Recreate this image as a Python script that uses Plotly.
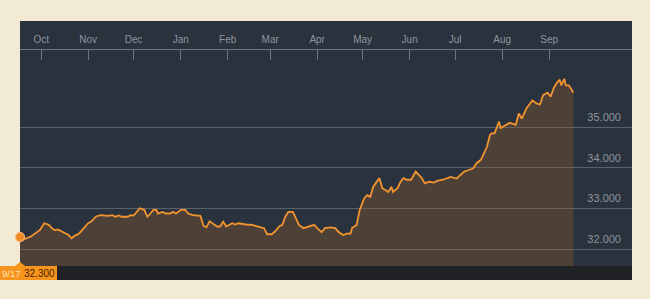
import plotly.graph_objects as go

dates = [
    "2013-09-17", "2013-09-20", "2013-09-24", "2013-09-27", "2013-09-30",
    "2013-10-03", "2013-10-06", "2013-10-08", "2013-10-10", "2013-10-12",
    "2013-10-15", "2013-10-17", "2013-10-19", "2013-10-21", "2013-10-23",
    "2013-10-26", "2013-10-28", "2013-10-30", "2013-11-01", "2013-11-03",
    "2013-11-06", "2013-11-08", "2013-11-10", "2013-11-12", "2013-11-14",
    "2013-11-17", "2013-11-19", "2013-11-21", "2013-11-23", "2013-11-27",
    "2013-11-29", "2013-12-01", "2013-12-03", "2013-12-05", "2013-12-08",
    "2013-12-10", "2013-12-12", "2013-12-14", "2013-12-16", "2013-12-17",
    "2013-12-20", "2013-12-22", "2013-12-25", "2013-12-27", "2013-12-29",
    "2014-01-01", "2014-01-04", "2014-01-06", "2014-01-09", "2014-01-14",
    "2014-01-16", "2014-01-18", "2014-01-20", "2014-01-23", "2014-01-25",
    "2014-01-27", "2014-01-29", "2014-01-31", "2014-02-02", "2014-02-04",
    "2014-02-06", "2014-02-08", "2014-02-13", "2014-02-17", "2014-02-21",
    "2014-02-25", "2014-02-27", "2014-03-02", "2014-03-04", "2014-03-07",
    "2014-03-09", "2014-03-11", "2014-03-13", "2014-03-16", "2014-03-18",
    "2014-03-20", "2014-03-23", "2014-03-26", "2014-03-30", "2014-04-01",
    "2014-04-04", "2014-04-06", "2014-04-10", "2014-04-13", "2014-04-15",
    "2014-04-18", "2014-04-21", "2014-04-23", "2014-04-24", "2014-04-27",
    "2014-04-29", "2014-05-02", "2014-05-04", "2014-05-06", "2014-05-08",
    "2014-05-12", "2014-05-14", "2014-05-16", "2014-05-18", "2014-05-20",
    "2014-05-21", "2014-05-24", "2014-05-26", "2014-05-28", "2014-05-30",
    "2014-06-02", "2014-06-05", "2014-06-07", "2014-06-09", "2014-06-11",
    "2014-06-14", "2014-06-17", "2014-06-19", "2014-06-23", "2014-06-28",
    "2014-07-02", "2014-07-07", "2014-07-10", "2014-07-13", "2014-07-15",
    "2014-07-18", "2014-07-20", "2014-07-22", "2014-07-24", "2014-07-25",
    "2014-07-27", "2014-07-30", "2014-07-31", "2014-08-03", "2014-08-06",
    "2014-08-10", "2014-08-12", "2014-08-14", "2014-08-17", "2014-08-21",
    "2014-08-24", "2014-08-26", "2014-08-28", "2014-08-31", "2014-09-02",
    "2014-09-04", "2014-09-06", "2014-09-08", "2014-09-09", "2014-09-11",
    "2014-09-12", "2014-09-14", "2014-09-15", "2014-09-17",
]

values = [
    32.30, 32.25, 32.31, 32.39, 32.47,
    32.64, 32.60, 32.52, 32.47, 32.49,
    32.43, 32.41, 32.35, 32.27, 32.33,
    32.39, 32.47, 32.56, 32.64, 32.68,
    32.80, 32.83, 32.84, 32.83, 32.82,
    32.84, 32.80, 32.83, 32.80, 32.80,
    32.84, 32.83, 32.92, 33.01, 32.97,
    32.80, 32.88, 32.97, 32.97, 32.88,
    32.92, 32.88, 32.88, 32.92, 32.88,
    32.97, 32.97, 32.88, 32.84, 32.82,
    32.58, 32.54, 32.69, 32.60, 32.56,
    32.56, 32.68, 32.56, 32.60, 32.64,
    32.61, 32.64, 32.61, 32.60, 32.56,
    32.52, 32.37, 32.37, 32.43, 32.56,
    32.60, 32.80, 32.92, 32.92, 32.76,
    32.60, 32.52, 32.56, 32.60, 32.52,
    32.42, 32.52, 32.54, 32.52, 32.43,
    32.35, 32.39, 32.38, 32.52, 32.60,
    32.96, 33.25, 33.33, 33.29, 33.54,
    33.75, 33.50, 33.46, 33.41, 33.54,
    33.41, 33.50, 33.66, 33.75, 33.71,
    33.71, 33.91, 33.83, 33.75, 33.62,
    33.66, 33.64, 33.68, 33.71, 33.78,
    33.74, 33.91, 33.95, 33.99, 34.11,
    34.20, 34.36, 34.52, 34.81, 34.85,
    34.85, 35.14, 34.98, 35.05, 35.11,
    35.06, 35.34, 35.21, 35.46, 35.66,
    35.58, 35.56, 35.79, 35.85, 35.75,
    35.96, 36.09, 36.17, 36.03, 36.19,
    36.03, 36.03, 35.97, 35.85,
]

month_ticks = [
    "2013-10-01", "2013-11-01", "2013-12-01", "2014-01-01", "2014-02-01",
    "2014-03-01", "2014-04-01", "2014-05-01", "2014-06-01", "2014-07-01",
    "2014-08-01", "2014-09-01",
]
month_labels = ["Oct", "Nov", "Dec", "Jan", "Feb", "Mar", "Apr", "May",
                "Jun", "Jul", "Aug", "Sep"]
y_ticks = [32, 33, 34, 35]
y_labels = ["32.000", "33.000", "34.000", "35.000"]

PANEL = "#29323d"
GRID = "#59616b"
TXT = "#8e959d"
ORANGE = "#f29430"
FONT = "Liberation Sans, Arial, sans-serif"

W, H = 650, 299
ML, MR, MT, MB = 20, 18, 50, 33
PH = H - MT - MB
PW = W - ML - MR

fig = go.Figure()
fig.add_trace(go.Scatter(
    x=dates, y=values, mode="lines",
    line=dict(color=ORANGE, width=1.8),
    fill="tozeroy", fillcolor="rgba(151,97,44,0.32)",
    hoverinfo="skip",
))
fig.add_trace(go.Scatter(
    x=dates[:1], y=values[:1], mode="markers",
    marker=dict(size=9, color="#f08a22", line=dict(color="#f7b777", width=1.2)),
    cliponaxis=False, hoverinfo="skip",
))

shapes = [
    # header band
    dict(type="rect", xref="paper", yref="paper", x0=0, x1=1,
         y0=1, y1=1 + 29 / PH, fillcolor=PANEL, line=dict(width=0), layer="below"),
    # bottom strip
    dict(type="rect", xref="paper", yref="paper", x0=0, x1=1,
         y0=-14 / PH, y1=0, fillcolor="#1f2124", line=dict(width=0), layer="above"),
    # orange label box
    dict(type="rect", xref="paper", yref="paper", x0=-22 / PW, x1=37 / PW,
         y0=-14 / PH, y1=0, fillcolor="#f7941d", line=dict(width=0), layer="above"),
    dict(type="path", xref="paper", yref="paper",
         path=f"M {-5/PW} 0 L 0 {4/PH} L {5/PW} 0 Z",
         fillcolor="#f7941d", line=dict(width=0), layer="above"),
]

d0 = dates[0].split("-")
date_lbl = f"{int(d0[1])}/{int(d0[2])}"
annotations = [
    dict(xref="paper", yref="paper", x=-20 / PW, y=-7 / PH, text=date_lbl,
         showarrow=False, xanchor="left", yanchor="middle",
         font=dict(family=FONT, size=9.5, color="#ffe2bd")),
    dict(xref="paper", yref="paper", x=19 / PW, y=-7 / PH, text=f"{values[0]:.3f}",
         showarrow=False, xanchor="center", yanchor="middle",
         font=dict(family=FONT, size=10, color="#4a2300")),
]

fig.update_layout(
    width=W, height=H,
    margin=dict(l=ML, r=MR, t=MT, b=MB, pad=0),
    paper_bgcolor="#f3ead3",
    plot_bgcolor=PANEL,
    showlegend=False,
    shapes=shapes,
    annotations=annotations,
    xaxis=dict(
        type="date",
        range=["2013-09-17", "2014-10-25 16:00"],
        side="top",
        tickvals=month_ticks, ticktext=month_labels,
        ticks="inside", ticklen=10, tickcolor="#6d757e", tickwidth=1,
        showline=True, linecolor="#6d757e", linewidth=1,
        showgrid=False, zeroline=False,
        tickfont=dict(family=FONT, size=10, color=TXT),
        ticklabelstandoff=2,
    ),
    yaxis=dict(
        range=[31.589, 36.900],
        side="right",
        tickvals=y_ticks, ticktext=y_labels,
        ticklabelposition="inside",
        ticks="",
        showgrid=True, gridcolor=GRID, gridwidth=1,
        zeroline=False, showline=False,
        tickfont=dict(family=FONT, size=11, color=TXT),
        ticklabelshift=-10,
        ticklabelstandoff=8,
    ),
)

fig.write_html("out.html")
